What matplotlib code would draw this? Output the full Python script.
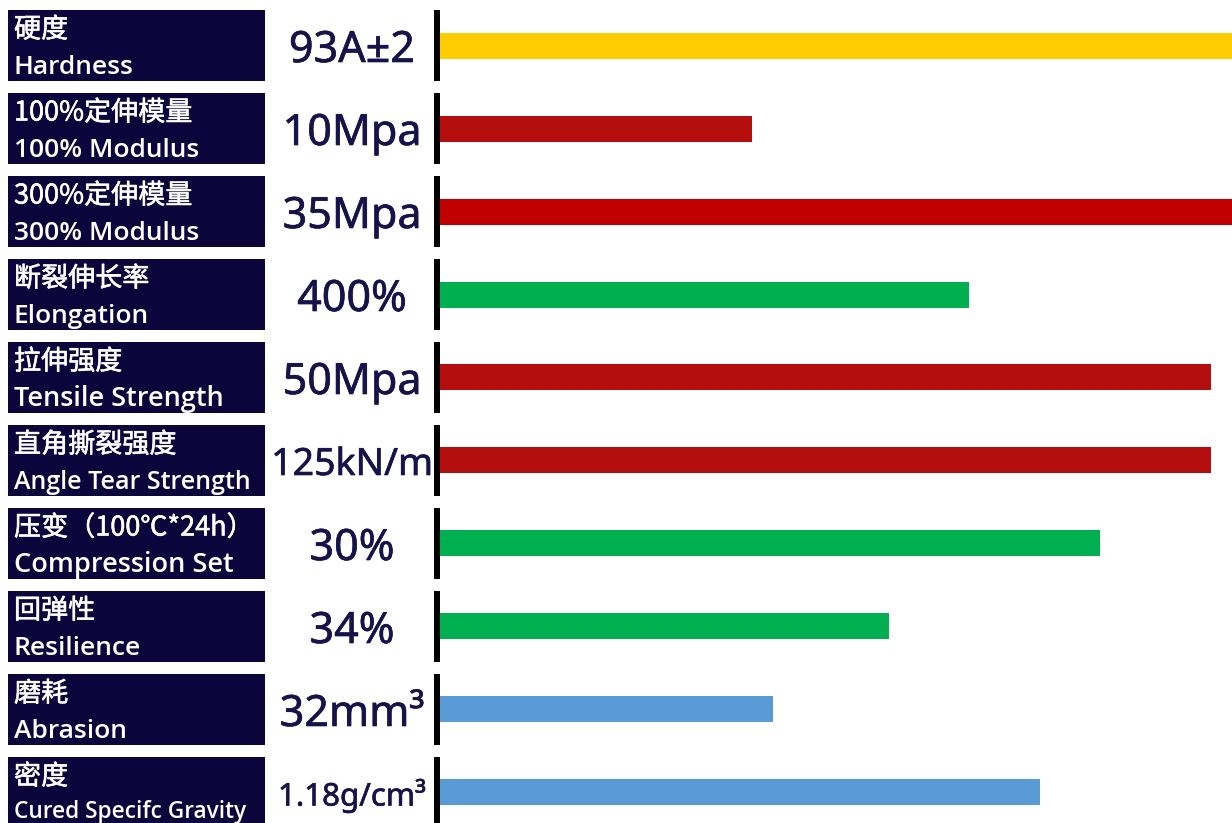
import matplotlib

matplotlib.use("Agg")
import matplotlib.pyplot as plt
from matplotlib import patheffects, transforms
from matplotlib.patches import Rectangle

# property rows, top to bottom
names_cn = ["硬度", "100%定伸模量", "300%定伸模量", "断裂伸长率", "拉伸强度",
            "直角撕裂强度", "压变（100℃*24h）", "回弹性", "磨耗", "密度"]
names_en = ["Hardness", "100% Modulus", "300% Modulus", "Elongation", "Tensile Strength",
            "Angle Tear Strength", "Compression Set", "Resilience", "Abrasion",
            "Cured Specifc Gravity"]
value_text = ["93A±2", "10Mpa", "35Mpa", "400%", "50Mpa",
              "125kN/m", "30%", "34%", "32mm³", "1.18g/cm³"]
# relative bar length (0-100, 100 = right edge)
bar_len = [100, 39.5, 100, 66.8, 97.3, 97.3, 83.4, 56.7, 42.1, 75.8]
bar_colors = ["#FFCC00", "#B40E0E", "#C00000", "#00B050", "#B40E0E",
              "#B40E0E", "#00B050", "#00B050", "#5B9BD5", "#5B9BD5"]

W, H = 1232, 823
BOX = "#0b053c"
INK = "#16134a"
LATIN = ["Noto Sans", "Noto Sans CJK SC", "DejaVu Sans"]
LABEL = ["Open Sans", "Noto Sans CJK SC", "DejaVu Sans"]
CJK = ["Noto Sans CJK SC", "DejaVu Sans"]
plt.rcParams["font.family"] = LATIN


def heavier(color, lw):
    # regular weight is too light, bold too heavy: thicken with a thin outline
    return [patheffects.withStroke(linewidth=lw, foreground=color)]


fig = plt.figure(figsize=(W / 100, H / 100), dpi=100)
fig.patch.set_facecolor("white")
# bar area starts just right of the separator line
ax = fig.add_axes([439 / W, 0, 1 - 439 / W, 1])
ax.set_xlim(0, 100)
# row pitch is 83 px, first row centred 45.5 px from the top
ax.set_ylim((H - 45.5) / 83, -45.5 / 83)
ax.axis("off")

n = len(names_cn)
rows = range(n)
ax.barh(rows, bar_len, height=26 / 83, color=bar_colors, left=0)

blend = transforms.blended_transform_factory(fig.transFigure, ax.transData)
half = 35.5 / 83
val_sizes = [31, 31, 31, 31, 31, 27, 31, 31, 31, 22.5]
en_sizes = [19, 19, 19, 19, 19.5, 18, 19.5, 19, 19, 16.3]
en_base = [28.5] * 9 + [26]
for i in rows:
    ax.add_patch(Rectangle((8 / W, i - half), 257 / W, 2 * half, transform=blend,
                           facecolor=BOX, edgecolor="none", clip_on=False))
    ax.plot([437 / W, 437 / W], [i - half, i + half], transform=blend,
            color="black", linewidth=4.3, solid_capstyle="butt", clip_on=False)
    ax.text(14 / W, i - 8 / 83, names_cn[i], transform=blend, color="white",
            fontsize=19.5, family=CJK, va="baseline", ha="left",
            path_effects=heavier("white", 0.4))
    ax.text(14 / W, i + en_base[i] / 83, names_en[i], transform=blend, color="white",
            fontsize=en_sizes[i], family=LABEL, fontweight="semibold",
            va="baseline", ha="left")
    ax.text(352 / W, i, value_text[i], transform=blend, color=INK,
            fontsize=val_sizes[i], va="center_baseline", ha="center",
            path_effects=heavier(INK, 0.45))

fig.savefig("out.png", dpi=100, facecolor="white")
